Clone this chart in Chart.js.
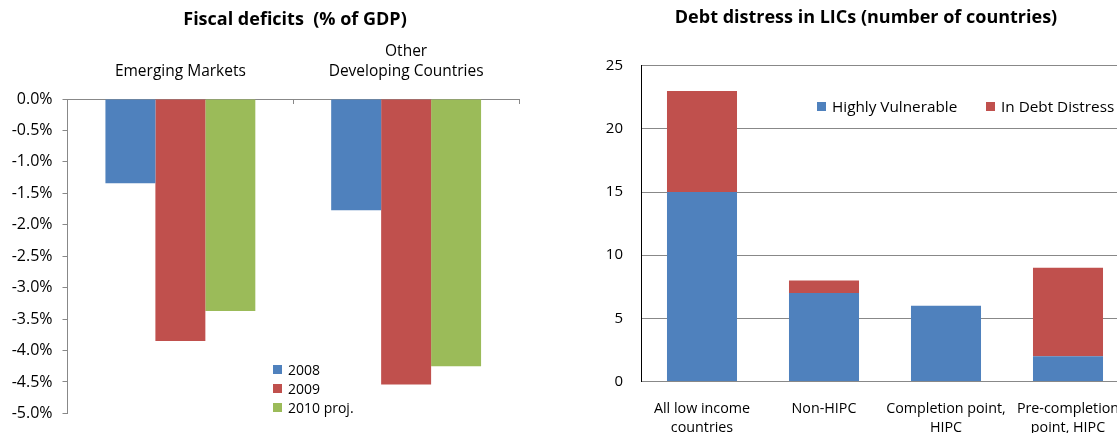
<!DOCTYPE html>
<html><head><meta charset="utf-8">
<script src="https://cdn.jsdelivr.net/npm/chart.js@4.4.0/dist/chart.umd.min.js"></script>
<style>
html,body{margin:0;padding:0;width:1117px;height:433px;overflow:hidden;background:#fff;position:relative;}
canvas{position:absolute;top:0;}
#cL{left:0;}
#cR{left:560px;}
.lg{position:absolute;font-family:'Open Sans',sans-serif;color:#000;white-space:nowrap;}
.lg .it{position:absolute;display:flex;align-items:center;}
.lg .sw{display:inline-block;width:9px;height:9px;margin-right:6px;}
</style>
</head><body>
<canvas id="cL" width="590" height="433"></canvas>
<canvas id="cR" width="612" height="433"></canvas>
<div id="lgL" class="lg"></div>
<div id="lgR" class="lg"></div>
<script>
// ---- Left chart data: Fiscal deficits (% of GDP)
const fiscalCategories = ['Emerging Markets', ['Other', 'Developing Countries']];
const fiscalSeriesNames = ['2008', '2009', '2010 proj.'];
const fiscal2008 = [-1.34, -1.77];
const fiscal2009 = [-3.85, -4.54];
const fiscal2010 = [-3.37, -4.25];
const fiscalTicks = { min: -5, max: 0, step: 0.5 };

// ---- Right chart data: Debt distress in LICs (number of countries)
const debtCategories = [['All low income', 'countries'], 'Non-HIPC', ['Completion point,', 'HIPC'], ['Pre-completion', 'point, HIPC']];
const debtSeriesNames = ['Highly Vulnerable', 'In Debt Distress'];
const highlyVulnerable = [15, 7, 6, 2];
const inDebtDistress = [8, 1, 0, 7];
const debtTicks = { min: 0, max: 25, step: 5 };

const BLUE = '#4F81BD', RED = '#C0504D', GREEN = '#9BBB59';
const FONT = "'Open Sans'";

function dummyRight(w) {
  return { position: 'right', display: true, ticks: { display: false }, grid: { display: false }, border: { display: false },
    afterFit(s) { s.width = w; } };
}

const left = new Chart(document.getElementById('cL'), {
  type: 'bar',
  data: {
    labels: fiscalCategories,
    datasets: [
      { label: fiscalSeriesNames[0], data: fiscal2008, backgroundColor: BLUE },
      { label: fiscalSeriesNames[1], data: fiscal2009, backgroundColor: RED },
      { label: fiscalSeriesNames[2], data: fiscal2010, backgroundColor: GREEN }
    ]
  },
  options: {
    responsive: false, animation: false,
    layout: { padding: { left: 0, right: 0, top: 0, bottom: 9 } },
    datasets: { bar: { categoryPercentage: 0.664, barPercentage: 1, borderWidth: 0 } },
    plugins: {
      legend: { display: false }, tooltip: { enabled: false },
      title: { display: true, text: 'Fiscal deficits  (% of GDP)', color: '#000',
        font: { family: FONT, size: 18, weight: 'bold', lineHeight: 1.2 }, padding: { top: 9.2, bottom: 0 } }
    },
    scales: {
      x: { position: 'top', offset: true,
        grid: { offset: true, drawOnChartArea: false, drawTicks: true, tickLength: -5, color: '#888' },
        border: { display: true, color: '#888' },
        ticks: { padding: 22, color: '#000', font: { family: FONT, size: 15.5, lineHeight: 1.3 } },
        afterFit(s) { s.height = 68.2; } },
      y: { min: fiscalTicks.min, max: fiscalTicks.max,
        ticks: { stepSize: fiscalTicks.step, padding: 10, color: '#000', font: { family: FONT, size: 16 },
          callback: v => (Math.abs(v) < 1e-9 ? 0 : v).toFixed(1) + '%' },
        grid: { drawOnChartArea: false, tickLength: 5, color: '#888' },
        border: { color: '#888' },
        afterFit(s) { s.width = 67.5; } },
      yDummy: dummyRight(71)
    }
  }
});

const right = new Chart(document.getElementById('cR'), {
  type: 'bar',
  data: {
    labels: debtCategories,
    datasets: [
      { label: debtSeriesNames[0], data: highlyVulnerable, backgroundColor: BLUE },
      { label: debtSeriesNames[1], data: inDebtDistress, backgroundColor: RED }
    ]
  },
  options: {
    responsive: false, animation: false,
    layout: { padding: 0 },
    datasets: { bar: { categoryPercentage: 0.574, barPercentage: 1, borderWidth: 0 } },
    plugins: {
      legend: { display: false }, tooltip: { enabled: false },
      title: { display: true, text: 'Debt distress in LICs (number of countries)', color: '#000',
        font: { family: FONT, size: 18, weight: 'bold', lineHeight: 1.2 }, padding: { top: 7.2, bottom: 36.9 } }
    },
    scales: {
      x: { stacked: true,
        grid: { display: false },
        border: { display: true, color: '#888' },
        ticks: { padding: 9.5, color: '#000', maxRotation: 0, minRotation: 0, autoSkip: false,
          font: { family: FONT, size: 14.3, lineHeight: 1.37 } },
        afterFit(s) { s.height = 51.5; } },
      y: { stacked: true, min: debtTicks.min, max: debtTicks.max,
        ticks: { stepSize: debtTicks.step, padding: 18, color: '#000', font: { family: FONT, size: 15 } },
        grid: { drawTicks: false, color: '#888' },
        border: { color: '#000' },
        afterFit(s) { s.width = 81; } },
      yDummy: dummyRight(43)
    }
  }
});

// HTML legends built from the dataset labels/colours
function buildLegend(el, chart, items, fontSize) {
  el.style.fontSize = fontSize + 'px';
  chart.data.datasets.forEach((ds, i) => {
    const d = document.createElement('div');
    d.className = 'it';
    d.style.left = items[i][0] + 'px';
    d.style.top = items[i][1] + 'px';
    d.style.height = '0px';
    const sw = document.createElement('span');
    sw.className = 'sw'; sw.style.background = ds.backgroundColor;
    const t = document.createElement('span');
    t.textContent = ds.label;
    d.appendChild(sw); d.appendChild(t);
    el.appendChild(d);
  });
}
buildLegend(document.getElementById('lgL'), left, [[273, 369], [273, 388], [273, 407]], 14);
buildLegend(document.getElementById('lgR'), right, [[817, 106], [986, 106]], 15.3);
</script>
</body></html>
